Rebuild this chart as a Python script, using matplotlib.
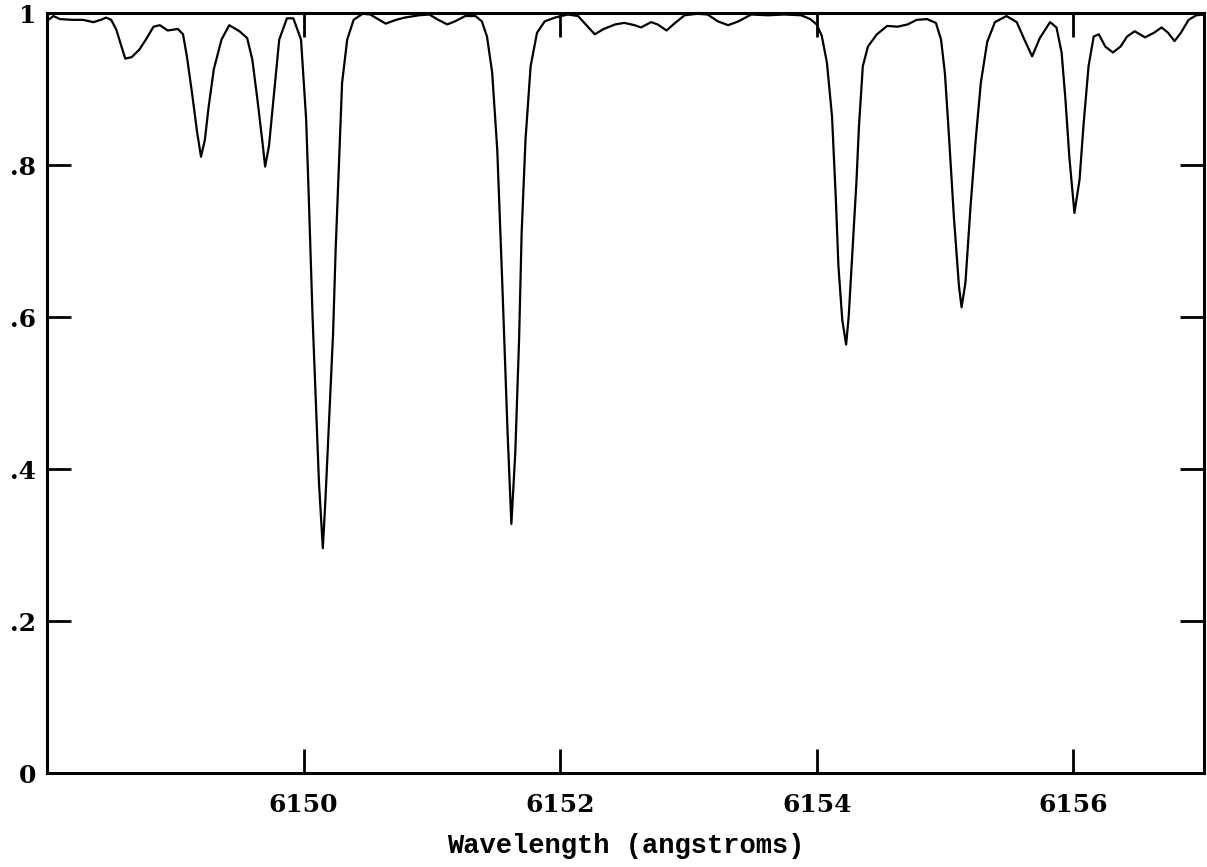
import matplotlib
matplotlib.use('Agg')
import matplotlib.pyplot as plt

# wavelength (angstroms) and normalised flux
wavelength = [
    6148.01, 6148.05, 6148.10, 6148.20, 6148.28, 6148.36, 6148.42, 6148.46, 6148.50,
    6148.54, 6148.58, 6148.61, 6148.66, 6148.72, 6148.77, 6148.83, 6148.88, 6148.94,
    6149.02, 6149.06, 6149.09, 6149.13, 6149.17, 6149.20, 6149.23, 6149.26, 6149.30,
    6149.36, 6149.42, 6149.50, 6149.56, 6149.60, 6149.64, 6149.68, 6149.70, 6149.73,
    6149.77, 6149.81, 6149.87, 6149.92, 6149.98, 6150.02, 6150.04, 6150.07, 6150.10,
    6150.12, 6150.15, 6150.17, 6150.20, 6150.23, 6150.25, 6150.28, 6150.30, 6150.34,
    6150.39, 6150.46, 6150.52, 6150.59, 6150.64, 6150.72, 6150.79, 6150.90, 6150.98,
    6151.05, 6151.12, 6151.18, 6151.26, 6151.34, 6151.39, 6151.43, 6151.47, 6151.51,
    6151.55, 6151.59, 6151.62, 6151.65, 6151.68, 6151.70, 6151.73, 6151.77, 6151.82,
    6151.88, 6151.96, 6152.06, 6152.14, 6152.21, 6152.27, 6152.34, 6152.43, 6152.50,
    6152.58, 6152.63, 6152.71, 6152.76, 6152.83, 6152.89, 6152.97, 6153.07, 6153.15,
    6153.23, 6153.31, 6153.39, 6153.49, 6153.62, 6153.75, 6153.88, 6153.95, 6154.00,
    6154.04, 6154.08, 6154.12, 6154.15, 6154.17, 6154.20, 6154.23, 6154.25, 6154.28,
    6154.31, 6154.33, 6154.36, 6154.40, 6154.47, 6154.55, 6154.63, 6154.71, 6154.78,
    6154.86, 6154.93, 6154.97, 6155.00, 6155.03, 6155.07, 6155.11, 6155.13, 6155.16,
    6155.20, 6155.24, 6155.28, 6155.33, 6155.39, 6155.48, 6155.56, 6155.62, 6155.68,
    6155.74, 6155.82, 6155.87, 6155.91, 6155.94, 6155.97, 6156.01, 6156.05, 6156.08,
    6156.12, 6156.16, 6156.20, 6156.25, 6156.31, 6156.37, 6156.42, 6156.48, 6156.56,
    6156.63, 6156.69, 6156.74, 6156.79, 6156.84, 6156.90, 6156.96, 6157.02,
]
flux = [
    0.991, 0.996, 0.992, 0.991, 0.991, 0.988, 0.991, 0.994, 0.991,
    0.978, 0.956, 0.940, 0.942, 0.952, 0.965, 0.982, 0.984, 0.977,
    0.979, 0.972, 0.943, 0.895, 0.843, 0.811, 0.833, 0.877, 0.926,
    0.965, 0.984, 0.976, 0.967, 0.939, 0.886, 0.829, 0.798, 0.825,
    0.895, 0.965, 0.993, 0.993, 0.965, 0.860, 0.760, 0.600, 0.469,
    0.382, 0.296, 0.359, 0.469, 0.579, 0.689, 0.820, 0.908, 0.965,
    0.991, 0.999, 0.998, 0.991, 0.986, 0.991, 0.994, 0.997, 0.998,
    0.991, 0.985, 0.989, 0.996, 0.996, 0.989, 0.969, 0.922, 0.820,
    0.640, 0.450, 0.328, 0.420, 0.570, 0.711, 0.833, 0.930, 0.974,
    0.989, 0.994, 0.998, 0.996, 0.983, 0.972, 0.979, 0.985, 0.987,
    0.984, 0.981, 0.988, 0.985, 0.977, 0.986, 0.997, 0.999, 0.998,
    0.989, 0.984, 0.989, 0.998, 0.997, 0.998, 0.997, 0.992, 0.985,
    0.970, 0.935, 0.864, 0.754, 0.667, 0.596, 0.564, 0.601, 0.689,
    0.777, 0.851, 0.930, 0.956, 0.972, 0.983, 0.982, 0.985, 0.991,
    0.992, 0.987, 0.965, 0.921, 0.843, 0.732, 0.640, 0.613, 0.645,
    0.746, 0.833, 0.908, 0.962, 0.988, 0.996, 0.988, 0.965, 0.943,
    0.967, 0.988, 0.981, 0.948, 0.886, 0.811, 0.737, 0.781, 0.851,
    0.930, 0.969, 0.972, 0.956, 0.948, 0.956, 0.969, 0.976, 0.968,
    0.974, 0.981, 0.974, 0.963, 0.974, 0.991, 0.997, 0.998,
]

x_ticks = [6150, 6152, 6154, 6156]
y_ticks = [0, 0.2, 0.4, 0.6, 0.8, 1.0]
y_tick_labels = ['0', '.2', '.4', '.6', '.8', '1']

fig = plt.figure(figsize=(12.07, 8.67), dpi=100)
ax = fig.add_axes([0.039, 0.108, 0.9585, 0.877])

ax.plot(wavelength, flux, color='black', linewidth=1.6,
        solid_joinstyle='round')

ax.set_xlim(6148.0, 6157.02)
ax.set_ylim(0, 1.0)

ax.set_xticks(x_ticks)
ax.set_xticklabels([str(t) for t in x_ticks])
ax.set_yticks(y_ticks)
ax.set_yticklabels(y_tick_labels)

ax.tick_params(direction='in', length=17, width=2.0, top=True, right=True,
               colors='black')
ax.tick_params(axis='x', pad=14)
ax.tick_params(axis='y', pad=8)
for lab in ax.get_xticklabels() + ax.get_yticklabels():
    lab.set_fontfamily('DejaVu Serif')
    lab.set_fontweight('bold')
    lab.set_fontsize(18)

for sp in ax.spines.values():
    sp.set_linewidth(2.2)
    sp.set_color('black')

ax.set_xlabel('Wavelength (angstroms)', fontfamily='Liberation Mono',
              fontweight='bold', fontsize=19.5, labelpad=12)

fig.savefig('out.png', dpi=100, facecolor='white')
